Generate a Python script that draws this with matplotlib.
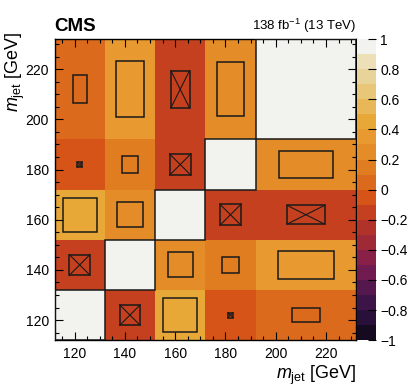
import numpy as np
import matplotlib
matplotlib.use("Agg")
import matplotlib.pyplot as plt
from matplotlib.colors import ListedColormap, BoundaryNorm
from matplotlib.patches import Rectangle
from matplotlib.ticker import MultipleLocator, FuncFormatter

plt.rcParams["font.family"] = ["Liberation Sans", "DejaVu Sans"]
plt.rcParams["mathtext.fontset"] = "custom"
plt.rcParams["mathtext.rm"] = "Liberation Sans"
plt.rcParams["mathtext.it"] = "Liberation Sans:italic"
plt.rcParams["mathtext.bf"] = "Liberation Sans:bold"

# bin edges in m_jet (GeV), same on both axes
edges = [112, 132, 152, 172, 192, 232]
# correlation matrix, corr[i][j]: x bin i, y bin j
corr = [
    [1.00, -0.17, 0.45, -0.01, 0.08],
    [-0.17, 1.00, 0.25, 0.11, 0.31],
    [0.45, 0.25, 1.00, -0.18, -0.14],
    [-0.01, 0.11, -0.18, 1.00, 0.29],
    [0.08, 0.31, -0.14, 0.29, 1.00],
]
ticks = [120, 140, 160, 180, 200, 220]
cbar_ticks = [-1, -0.8, -0.6, -0.4, -0.2, 0, 0.2, 0.4, 0.6, 0.8, 1]

# 20 discrete palette levels, from -1 up to 1
palette = [
    "#160a20", "#28103a", "#3c1448", "#55184e", "#701c50",
    "#882048", "#9e2a38", "#b03228", "#c4401e", "#d65418",
    "#dc6a1c", "#e07d20", "#e38c28", "#e89a30", "#e8a838",
    "#e8b858", "#e8c878", "#e8d498", "#ede0b8", "#f2f2ee",
]
cmap = ListedColormap(palette)
norm = BoundaryNorm(np.linspace(-1, 1, 21), cmap.N)

fig = plt.figure(figsize=(4.07, 3.91), dpi=100)
ax = fig.add_axes([0.134, 0.130, 0.741, 0.770])
cax = fig.add_axes([0.878, 0.130, 0.046, 0.770])

C = np.array(corr).T  # rows = y bins
mesh = ax.pcolormesh(edges, edges, C, cmap=cmap, norm=norm)

# boxes: area proportional to |value|, crossed when negative
for i in range(len(edges) - 1):
    for j in range(len(edges) - 1):
        v = corr[i][j]
        s = np.sqrt(abs(v))
        cx = (edges[i] + edges[i + 1]) / 2
        cy = (edges[j] + edges[j + 1]) / 2
        w = s * (edges[i + 1] - edges[i])
        h = s * (edges[j + 1] - edges[j])
        ax.add_patch(Rectangle((cx - w / 2, cy - h / 2), w, h, fill=False,
                               ec="#1a1a1a", lw=1.1, zorder=3))
        if v < 0:
            ax.plot([cx - w / 2, cx + w / 2], [cy - h / 2, cy + h / 2], color="#1a1a1a", lw=0.8, zorder=3)
            ax.plot([cx - w / 2, cx + w / 2], [cy + h / 2, cy - h / 2], color="#1a1a1a", lw=0.8, zorder=3)

ax.set_xlim(edges[0], edges[-1])
ax.set_ylim(edges[0], edges[-1])
ax.set_xticks(ticks)
ax.set_yticks(ticks)
ax.xaxis.set_minor_locator(MultipleLocator(5))
ax.yaxis.set_minor_locator(MultipleLocator(5))
ax.tick_params(which="both", direction="in", top=True, right=True, labelsize=10, colors="black")
ax.tick_params(which="major", length=6, width=0.8)
ax.tick_params(which="minor", length=3, width=0.8)
ax.tick_params(axis="x", pad=5)
ax.tick_params(axis="y", pad=4)
for sp in ax.spines.values():
    sp.set_linewidth(1.0)

ax.set_xlabel(r"$m_{\mathrm{jet}}$ [GeV]", fontsize=13, loc="right")
ax.xaxis.set_label_coords(1.0, -0.08)
ax.set_ylabel(r"$m_{\mathrm{jet}}$ [GeV]", fontsize=13, loc="top")
ax.yaxis.set_label_coords(-0.09, 1.025)

ax.text(0.0, 1.012, "CMS", transform=ax.transAxes, fontsize=13.5, fontweight="bold",
        ha="left", va="bottom")
ax.text(1.0, 1.012, r"138 fb$^{-1}$ (13 TeV)", transform=ax.transAxes, fontsize=9.5,
        ha="right", va="bottom")

cb = fig.colorbar(mesh, cax=cax, ticks=cbar_ticks)
cb.outline.set_visible(False)
cb.ax.tick_params(direction="in", length=6, width=0.8, labelsize=10, pad=3)
cb.ax.yaxis.set_major_formatter(FuncFormatter(lambda v, p: f"{round(v, 1):g}".replace("-", "\u2212")))
cb.ax.minorticks_off()

fig.savefig("out.png", dpi=100)
